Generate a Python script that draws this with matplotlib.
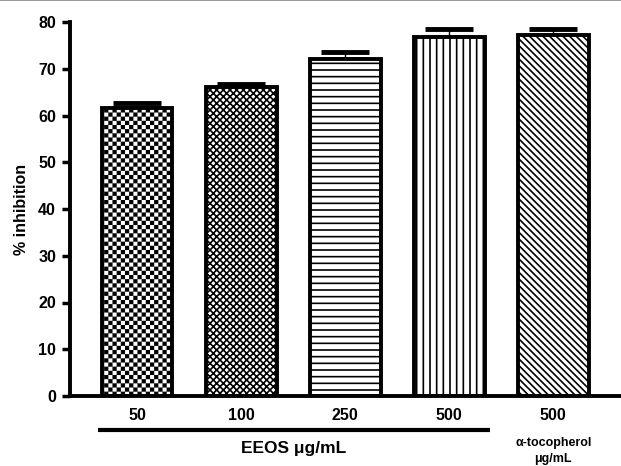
import warnings
import numpy as np
import matplotlib
matplotlib.use('Agg')
import matplotlib.pyplot as plt
from matplotlib import hatch as mhatch
from matplotlib.path import Path
from matplotlib.lines import Line2D

warnings.filterwarnings('ignore')

# data
doses = ['50', '100', '250', '500', '500']
inhibition = [61.7, 66.0, 72.1, 76.8, 77.2]
errors = [1.0, 0.8, 1.5, 1.7, 1.3]
hatches = ['c', 'xxxxx', 'h', 'v', '\\' * 5]


# extra hatch types: checkerboard, and line hatches with a custom spacing
class CheckerHatch(mhatch.HatchPatternBase):
    def __init__(self, hatch, density):
        self.n = hatch.count('c') * 24
        self.num_vertices = (self.n * self.n // 2) * 5

    def set_vertices_and_codes(self, vertices, codes):
        s = 1.0 / self.n
        w = s * 0.62
        off = (s - w) / 2
        k = 0
        for i in range(self.n):
            for j in range(self.n):
                if (i + j) % 2 == 0:
                    x0, y0 = i * s + off, j * s + off
                    vertices[k:k + 5] = [(x0, y0), (x0 + w, y0), (x0 + w, y0 + w),
                                         (x0, y0 + w), (x0, y0)]
                    codes[k:k + 5] = [Path.MOVETO, Path.LINETO, Path.LINETO,
                                      Path.LINETO, Path.CLOSEPOLY]
                    k += 5


class DenseHorizontal(mhatch.HorizontalHatch):
    def __init__(self, hatch, density):
        self.num_lines = hatch.count('h') * 15
        self.num_vertices = self.num_lines * 2


class DenseVertical(mhatch.VerticalHatch):
    def __init__(self, hatch, density):
        self.num_lines = hatch.count('v') * 15
        self.num_vertices = self.num_lines * 2


mhatch._hatch_types.extend([CheckerHatch, DenseHorizontal, DenseVertical])

plt.rcParams['font.family'] = ['Liberation Sans', 'DejaVu Sans']
plt.rcParams['font.weight'] = 'bold'
plt.rcParams['hatch.linewidth'] = 1.2

fig = plt.figure(figsize=(6.21, 4.66), dpi=100)
ax = fig.add_axes([70 / 621, 70 / 466, 1 - 70 / 621, 374 / 466])

x = np.arange(len(doses))
bars = ax.bar(x, inhibition, width=0.68, color='white', edgecolor='black',
              linewidth=2.8, zorder=2)
for b, h in zip(bars, hatches):
    b.set_hatch(h)

ax.errorbar(x, inhibition, yerr=[np.zeros(len(errors)), errors], fmt='none',
            ecolor='black', elinewidth=1.0, capsize=17, capthick=3.5, zorder=1)

ax.set_xlim(-0.645, 4.65)
ax.set_ylim(0, 80)
ax.set_yticks(np.arange(0, 81, 10))
ax.set_xticks(x)
ax.set_xticklabels(doses, fontsize=11.5, fontweight='bold')
ax.tick_params(axis='x', length=0, pad=9)
ax.tick_params(axis='y', length=6, width=2.5, labelsize=11.5, pad=4)
for t in ax.get_yticklabels():
    t.set_fontweight('bold')

for side in ['top', 'right']:
    ax.spines[side].set_visible(False)
for side in ['left', 'bottom']:
    ax.spines[side].set_linewidth(2.8)

ax.set_ylabel('% inhibition', fontsize=11.5, fontweight='bold', labelpad=7)

# group underline and group labels
trans = ax.get_xaxis_transform()
ax.plot([x[0] - 0.38, x[3] + 0.39], [-0.091, -0.091], color='black', lw=3,
        transform=trans, clip_on=False, solid_capstyle='butt')
ax.text((x[0] + x[3]) / 2, -0.14, 'EEOS \u03bcg/mL', transform=trans,
        ha='center', va='center', fontsize=12.5, fontweight='bold')
ax.text(x[4], -0.125, '\u03b1-tocopherol', transform=trans,
        ha='center', va='center', fontsize=9, fontweight='bold')
ax.text(x[4], -0.168, '\u03bcg/mL', transform=trans,
        ha='center', va='center', fontsize=9, fontweight='bold')

# thin grey rule along the top edge
fig.add_artist(Line2D([0, 1], [0.999, 0.999], color='#888888', lw=1.2,
                      transform=fig.transFigure))

fig.savefig('out.png', dpi=100)
